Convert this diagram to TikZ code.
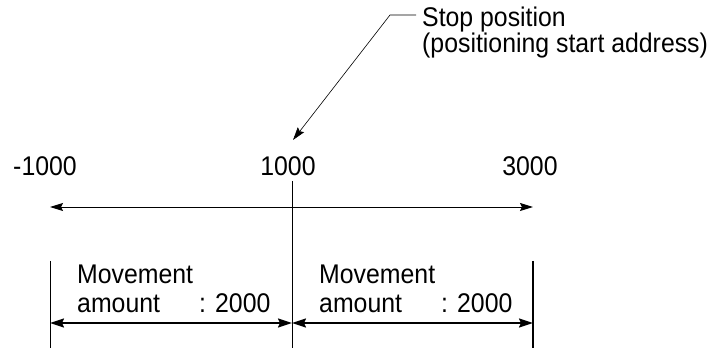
\documentclass[tikz,border=0pt]{standalone}
\usepackage{fontspec}
\setmainfont{Liberation Sans}[FakeStretch=0.92]
\usetikzlibrary{arrows.meta,positioning,calc}

\begin{document}
\begin{tikzpicture}[x=1pt,y=1pt,font=\fontsize{27}{29}\selectfont,>={Stealth[length=13pt,width=8pt,inset=2pt]}]
\tikzstyle{lbl}=[inner sep=0pt,anchor=base]
\tikzstyle{note}=[inner sep=0pt,align=left,anchor=north west]
\tikzstyle{dim}=[<->,line width=1.6pt,>={Stealth[length=14pt,width=9pt,inset=2pt]}]
\useasboundingbox (0,0) rectangle (717,348);
% scale values
\node[lbl] (vneg) at (45,172) {-1000};
\node[lbl] (vmid) at (288,172) {1000};
\node[lbl] (vpos) at (530,172) {3000};
% stop position callout
\node[note,font=\fontsize{27}{21}\selectfont] (stop) at (422,341) {Stop position\\(positioning start address)};
\coordinate (knee) at (390,333);
\coordinate (tip) at (293,208);
\draw[->,line width=0.6pt] ($(stop.west |- knee)+(-6,0)$) -- (knee) -- (tip);
% axis
\coordinate (axl) at (50,141);
\coordinate (axr) at (533,141);
\draw[<->,line width=0.9pt] (axl) -- (axr);
\coordinate (ctop) at (292,167);
\coordinate (cbot) at (292,0);
\draw[line width=0.9pt] (ctop) -- (cbot);
% movement ranges
\coordinate (ltop) at (50,87);
\coordinate (lbot) at (50,0);
\coordinate (rtop) at (533,87);
\coordinate (rbot) at (533,0);
\draw[line width=0.9pt] (ltop) -- (lbot);
\draw[line width=2pt] (rtop) -- (rbot);
\coordinate (la) at (50,25);
\coordinate (ma) at (292,25);
\coordinate (ra) at (533,25);
\draw[dim] (la) -- (ma);
\draw[dim] (ma) -- (ra);
\node[note] (amtl) at (77,83) {Movement\\amount\hspace{39pt}: 2000};
\node[note] (amtr) at (319,83) {Movement\\amount\hspace{39pt}: 2000};
\end{tikzpicture}
\end{document}
